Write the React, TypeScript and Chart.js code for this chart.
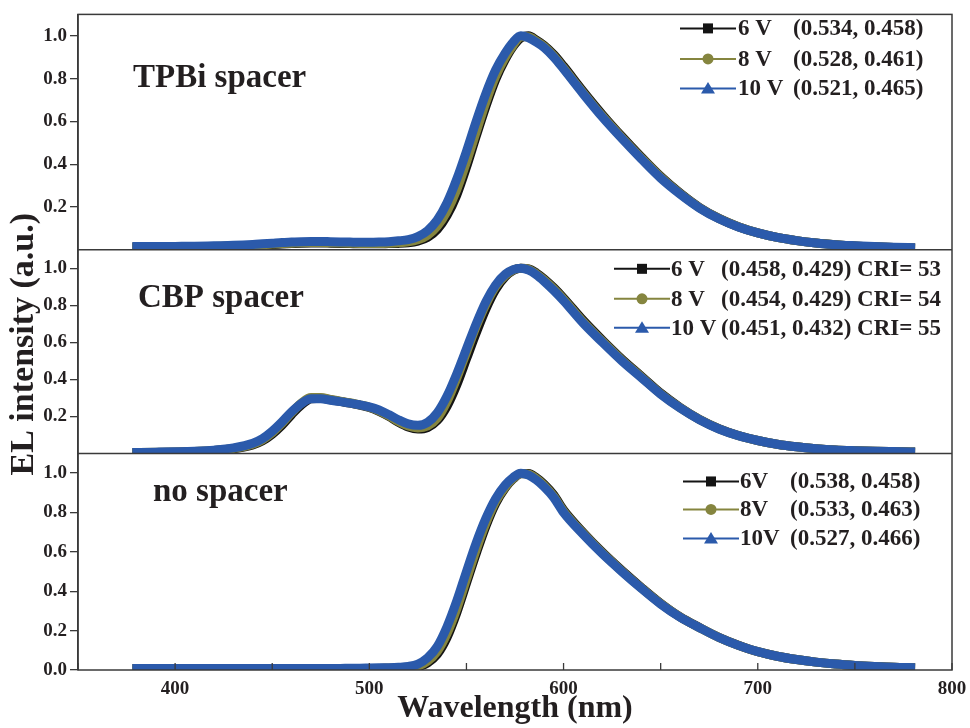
import React, { useEffect, useRef } from 'react';
import { Chart, registerables } from 'chart.js';

Chart.register(...registerables);

// ---------------- data ----------------
const WAVELENGTH = [378, 390, 400, 410, 420, 430, 440, 445, 450, 455, 460, 465, 470, 475, 480, 485, 490, 495, 500, 505, 510, 515, 520, 525, 530, 535, 540, 545, 550, 555, 560, 565, 570, 574, 578, 582, 586, 590, 595, 600, 610, 620, 630, 640, 650, 660, 670, 680, 690, 700, 710, 720, 730, 740, 750, 760, 770, 781];

const TPBI_6V = [0.012, 0.012, 0.013, 0.014, 0.015, 0.017, 0.02, 0.022, 0.025, 0.027, 0.029, 0.031, 0.032, 0.032, 0.031, 0.03, 0.029, 0.028, 0.028, 0.028, 0.029, 0.03, 0.033, 0.041, 0.058, 0.095, 0.16, 0.255, 0.385, 0.53, 0.67, 0.795, 0.89, 0.95, 0.99, 1.0, 0.98, 0.955, 0.912, 0.858, 0.742, 0.632, 0.53, 0.434, 0.343, 0.265, 0.198, 0.147, 0.108, 0.079, 0.058, 0.043, 0.032, 0.024, 0.018, 0.014, 0.011, 0.009];
const TPBI_8V = [0.013, 0.013, 0.014, 0.015, 0.016, 0.018, 0.021, 0.024, 0.027, 0.029, 0.031, 0.033, 0.034, 0.034, 0.033, 0.032, 0.031, 0.03, 0.03, 0.03, 0.031, 0.033, 0.037, 0.047, 0.068, 0.11, 0.18, 0.28, 0.41, 0.55, 0.69, 0.81, 0.9, 0.955, 0.995, 0.995, 0.975, 0.95, 0.905, 0.85, 0.735, 0.625, 0.525, 0.43, 0.34, 0.263, 0.197, 0.146, 0.108, 0.079, 0.058, 0.043, 0.032, 0.024, 0.018, 0.014, 0.011, 0.009];
const TPBI_10V = [0.015, 0.015, 0.016, 0.017, 0.019, 0.021, 0.025, 0.028, 0.031, 0.034, 0.036, 0.038, 0.039, 0.039, 0.038, 0.037, 0.036, 0.035, 0.035, 0.036, 0.038, 0.042, 0.048, 0.062, 0.09, 0.14, 0.22, 0.33, 0.46, 0.6, 0.73, 0.84, 0.92, 0.97, 1.0, 0.99, 0.97, 0.945, 0.9, 0.845, 0.73, 0.62, 0.52, 0.425, 0.335, 0.26, 0.195, 0.145, 0.107, 0.079, 0.058, 0.043, 0.032, 0.024, 0.019, 0.015, 0.012, 0.01];

const CBP_6V = [0.004, 0.005, 0.007, 0.01, 0.015, 0.025, 0.046, 0.068, 0.104, 0.152, 0.21, 0.262, 0.295, 0.298, 0.29, 0.281, 0.272, 0.261, 0.248, 0.227, 0.2, 0.168, 0.143, 0.132, 0.14, 0.178, 0.255, 0.37, 0.51, 0.65, 0.78, 0.885, 0.955, 0.988, 1.0, 0.997, 0.975, 0.943, 0.895, 0.84, 0.72, 0.612, 0.51, 0.418, 0.326, 0.249, 0.184, 0.134, 0.097, 0.07, 0.05, 0.036, 0.026, 0.019, 0.015, 0.012, 0.01, 0.008];
const CBP_8V = [0.004, 0.006, 0.008, 0.011, 0.016, 0.027, 0.05, 0.074, 0.112, 0.162, 0.22, 0.272, 0.302, 0.302, 0.292, 0.283, 0.274, 0.263, 0.25, 0.23, 0.203, 0.172, 0.148, 0.138, 0.148, 0.19, 0.28, 0.405, 0.545, 0.685, 0.805, 0.9, 0.962, 0.99, 1.0, 0.995, 0.97, 0.937, 0.888, 0.833, 0.712, 0.606, 0.505, 0.414, 0.323, 0.247, 0.183, 0.133, 0.096, 0.07, 0.05, 0.036, 0.026, 0.019, 0.015, 0.012, 0.01, 0.008];
const CBP_10V = [0.005, 0.007, 0.009, 0.012, 0.018, 0.03, 0.055, 0.08, 0.12, 0.17, 0.225, 0.27, 0.295, 0.295, 0.287, 0.28, 0.272, 0.263, 0.252, 0.235, 0.21, 0.182, 0.16, 0.152, 0.168, 0.22, 0.31, 0.43, 0.565, 0.7, 0.82, 0.91, 0.968, 0.993, 1.0, 0.99, 0.965, 0.93, 0.88, 0.825, 0.705, 0.6, 0.5, 0.41, 0.32, 0.245, 0.182, 0.132, 0.096, 0.07, 0.05, 0.036, 0.026, 0.019, 0.015, 0.012, 0.01, 0.008];

const NO_6V = [0.006, 0.006, 0.006, 0.006, 0.006, 0.006, 0.006, 0.006, 0.006, 0.006, 0.006, 0.006, 0.006, 0.006, 0.006, 0.006, 0.007, 0.007, 0.008, 0.008, 0.009, 0.009, 0.01, 0.016, 0.036, 0.08, 0.165, 0.29, 0.44, 0.59, 0.73, 0.845, 0.925, 0.97, 0.997, 0.998, 0.977, 0.944, 0.889, 0.813, 0.7, 0.598, 0.506, 0.42, 0.339, 0.27, 0.216, 0.166, 0.126, 0.093, 0.07, 0.053, 0.04, 0.03, 0.023, 0.018, 0.014, 0.012];
const NO_8V = [0.006, 0.006, 0.006, 0.006, 0.006, 0.006, 0.006, 0.006, 0.006, 0.006, 0.006, 0.006, 0.006, 0.006, 0.006, 0.006, 0.007, 0.007, 0.008, 0.008, 0.009, 0.01, 0.012, 0.02, 0.045, 0.095, 0.185, 0.31, 0.46, 0.61, 0.745, 0.855, 0.93, 0.972, 0.998, 0.995, 0.972, 0.938, 0.882, 0.807, 0.695, 0.594, 0.503, 0.417, 0.337, 0.269, 0.215, 0.165, 0.125, 0.093, 0.07, 0.053, 0.04, 0.03, 0.023, 0.018, 0.014, 0.012];
const NO_10V = [0.008, 0.008, 0.008, 0.008, 0.008, 0.008, 0.008, 0.008, 0.008, 0.008, 0.008, 0.008, 0.008, 0.008, 0.008, 0.008, 0.009, 0.009, 0.01, 0.011, 0.012, 0.014, 0.018, 0.03, 0.062, 0.12, 0.22, 0.35, 0.5, 0.645, 0.77, 0.87, 0.94, 0.978, 1.0, 0.99, 0.965, 0.93, 0.875, 0.8, 0.69, 0.59, 0.5, 0.415, 0.335, 0.268, 0.215, 0.165, 0.125, 0.093, 0.07, 0.053, 0.04, 0.03, 0.023, 0.018, 0.014, 0.012];

const X_TICK_STEP = 50;
const X_LABELED_TICKS = [400, 500, 600, 700, 800];
const Y_TICKS_UPPER = [0.2, 0.4, 0.6, 0.8, 1.0];
const Y_TICKS_LOWER = [0.0, 0.2, 0.4, 0.6, 0.8, 1.0];

const PANEL_NAMES = ['TPBi spacer', 'CBP spacer', 'no spacer'];
const VOLTAGE_LABELS = ['6 V', '8 V', '10 V'];
const NO_SPACER_VOLTAGE_LABELS = ['6V', '8V', '10V'];
const TPBI_LEGEND = ['(0.534, 0.458)', '(0.528, 0.461)', '(0.521, 0.465)'];
const CBP_LEGEND = ['(0.458, 0.429) CRI= 53', '(0.454, 0.429) CRI= 54', '(0.451, 0.432) CRI= 55'];
const NO_LEGEND = ['(0.538, 0.458)', '(0.533, 0.463)', '(0.527, 0.466)'];

const X_TITLE = 'Wavelength (nm)';
const Y_TITLE = 'EL intensity (a.u.)';

// ---------------- styles ----------------
const FONT = 'Liberation Serif, Times New Roman, serif';
const TEXT = '#231f20';
const AXIS = '#3a3a3a';
const SERIES_COLORS = ['#141414', '#85853f', '#2b5aab'];

const PANELS = [
  {
    id: 'yTop', name: PANEL_NAMES[0], series: [TPBI_6V, TPBI_8V, TPBI_10V],
    labels: VOLTAGE_LABELS, legend: TPBI_LEGEND, weight: 237, ticks: Y_TICKS_UPPER,
    nameX: 133, nameY: 73, lineX: 680, labelX: 738, cieX: 793, rows: [14, 44.5, 74],
  },
  {
    id: 'yMid', name: PANEL_NAMES[1], series: [CBP_6V, CBP_8V, CBP_10V],
    labels: VOLTAGE_LABELS, legend: CBP_LEGEND, weight: 205, ticks: Y_TICKS_UPPER,
    nameX: 138, nameY: 57, lineX: 614, labelX: 671, cieX: 721, rows: [19, 49, 78],
  },
  {
    id: 'yBot', name: PANEL_NAMES[2], series: [NO_6V, NO_8V, NO_10V],
    labels: NO_SPACER_VOLTAGE_LABELS, legend: NO_LEGEND, weight: 218, ticks: Y_TICKS_LOWER,
    nameX: 153, nameY: 48, lineX: 683, labelX: 740, cieX: 790, rows: [28, 56, 85],
  },
];

function drawMarker(ctx: CanvasRenderingContext2D, kind: number, x: number, y: number, color: string) {
  ctx.fillStyle = color;
  ctx.beginPath();
  if (kind === 0) {
    ctx.rect(x - 5, y - 5, 10, 10);
  } else if (kind === 1) {
    ctx.arc(x, y, 5.5, 0, Math.PI * 2);
  } else {
    ctx.moveTo(x, y - 6.5);
    ctx.lineTo(x + 7, y + 5);
    ctx.lineTo(x - 7, y + 5);
    ctx.closePath();
  }
  ctx.fill();
}

const panelPlugin = {
  id: 'panelPlugin',
  beforeDatasetDraw(chart: any, args: any) {
    const ys = chart.scales[args.meta.yAxisID];
    const { left, right } = chart.chartArea;
    const ctx = chart.ctx;
    ctx.save();
    ctx.beginPath();
    ctx.rect(left, ys.top, right - left, ys.bottom - ys.top);
    ctx.clip();
  },
  afterDatasetDraw(chart: any) {
    chart.ctx.restore();
  },
  afterDraw(chart: any) {
    const ctx: CanvasRenderingContext2D = chart.ctx;
    const { left, right, top, bottom } = chart.chartArea;
    ctx.save();
    // frame and panel separators
    ctx.strokeStyle = AXIS;
    ctx.lineWidth = 1.5;
    ctx.strokeRect(left, top, right - left, bottom - top);
    PANELS.forEach((p, i) => {
      if (i < PANELS.length - 1) {
        const s = chart.scales[p.id];
        ctx.beginPath();
        ctx.moveTo(left, s.bottom);
        ctx.lineTo(right, s.bottom);
        ctx.stroke();
      }
    });
    // inward x ticks
    const xs = chart.scales.x;
    ctx.lineWidth = 1.3;
    xs.ticks.forEach((t: any) => {
      const px = xs.getPixelForValue(t.value);
      ctx.beginPath();
      ctx.moveTo(px, bottom);
      ctx.lineTo(px, bottom - 7);
      ctx.stroke();
    });
    // y title
    ctx.fillStyle = TEXT;
    ctx.font = `bold 34px ${FONT}`;
    ctx.textAlign = 'center';
    ctx.textBaseline = 'middle';
    ctx.save();
    ctx.translate(24, (top + bottom) / 2 + 2);
    ctx.rotate(-Math.PI / 2);
    ctx.fillText(Y_TITLE, 0, 0);
    ctx.restore();
    // panel names and legends
    PANELS.forEach((p) => {
      const s = chart.scales[p.id];
      ctx.fillStyle = TEXT;
      ctx.font = `bold 33px ${FONT}`;
      ctx.textAlign = 'left';
      ctx.textBaseline = 'alphabetic';
      ctx.fillText(p.name, p.nameX, s.top + p.nameY);
      p.rows.forEach((dy, j) => {
        const y = s.top + dy;
        const c = SERIES_COLORS[j];
        ctx.strokeStyle = c;
        ctx.lineWidth = 2;
        ctx.beginPath();
        ctx.moveTo(p.lineX, y);
        ctx.lineTo(p.lineX + 56, y);
        ctx.stroke();
        drawMarker(ctx, j, p.lineX + 28, y, c);
        ctx.fillStyle = TEXT;
        ctx.font = `bold 23px ${FONT}`;
        ctx.textBaseline = 'middle';
        ctx.fillText(p.labels[j], p.labelX, y + 1);
        ctx.fillText(p.legend[j], p.cieX, y + 1);
      });
    });
    ctx.restore();
  },
};

export default function App() {
  const ref = useRef<HTMLCanvasElement | null>(null);

  useEffect(() => {
    if (!ref.current) return;
    const datasets: any[] = [];
    PANELS.forEach((p) => {
      p.series.forEach((arr, j) => {
        datasets.push({
          label: `${p.name} ${p.labels[j]}`,
          data: WAVELENGTH.map((x, i) => ({ x, y: arr[i] })),
          yAxisID: p.id,
          borderColor: SERIES_COLORS[j],
          backgroundColor: SERIES_COLORS[j],
          borderWidth: 9,
          pointRadius: 0,
          fill: false,
          cubicInterpolationMode: 'monotone',
          order: 2 - j,
        });
      });
    });

    const yScale = (p: any) => ({
      type: 'linear',
      position: 'left',
      stack: 'panels',
      stackWeight: p.weight,
      min: 0,
      max: 1.1,
      afterBuildTicks: (s: any) => {
        s.ticks = p.ticks.map((v: number) => ({ value: v }));
      },
      afterFit: (s: any) => {
        s.width = 78;
      },
      ticks: {
        autoSkip: false,
        color: TEXT,
        padding: 3,
        font: { family: FONT, size: 19, weight: 'bold' },
        callback: (v: any) => Number(v).toFixed(1),
      },
      grid: { display: true, drawOnChartArea: false, drawTicks: true, tickLength: 8, color: AXIS, lineWidth: 1.3 },
      border: { display: true, color: AXIS, width: 1.5 },
    });

    // bottom panel first, top panel last (stacked left boxes are placed from the last one downward)
    const scales: any = {
      x: {
        type: 'linear',
        position: 'bottom',
        min: 350,
        max: 800,
        afterFit: (s: any) => {
          s.height = 58;
        },
        ticks: {
          stepSize: X_TICK_STEP,
          autoSkip: false,
          maxRotation: 0,
          color: TEXT,
          padding: 0,
          font: { family: FONT, size: 19, weight: 'bold' },
          callback: (v: any) => (X_LABELED_TICKS.includes(Number(v)) ? String(v) : ''),
        },
        grid: { display: false },
        border: { display: false },
        title: {
          display: true,
          text: X_TITLE,
          color: TEXT,
          font: { family: FONT, size: 32, weight: 'bold' },
          padding: { top: 0, bottom: 0 },
        },
      },
      yBot: yScale(PANELS[2]),
      yMid: yScale(PANELS[1]),
      yTop: yScale(PANELS[0]),
    };

    const chart = new Chart(ref.current, {
      type: 'line',
      data: { datasets },
      options: {
        animation: false,
        responsive: false,
        maintainAspectRatio: false,
        layout: { padding: { top: 10, right: 18, left: 0, bottom: 0 } },
        plugins: { legend: { display: false }, tooltip: { enabled: false } },
        scales,
      },
      plugins: [panelPlugin],
    } as any);
    return () => chart.destroy();
  }, []);

  return (
    <div style={{ position: 'fixed', left: 0, top: 0, width: 970, height: 728, background: '#fff' }}>
      <canvas ref={ref} width={970} height={728} style={{ display: 'block', width: 970, height: 728 }} />
    </div>
  );
}
